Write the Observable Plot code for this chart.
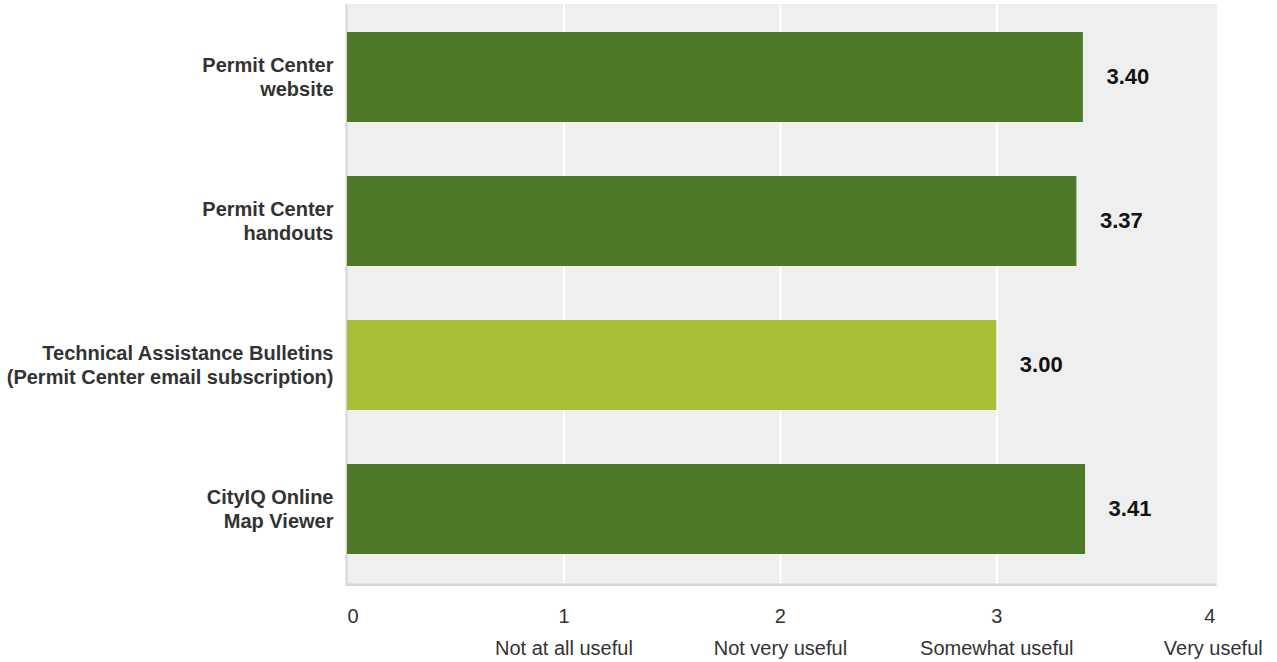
<!DOCTYPE html>
<html>
<head>
<meta charset="utf-8">
<script src="https://cdn.jsdelivr.net/npm/d3@7"></script>
<script src="https://cdn.jsdelivr.net/npm/@observablehq/plot@0.6"></script>
<style>
  html, body { margin: 0; padding: 0; background: #ffffff; }
  #chart svg { display: block; }
</style>
</head>
<body>
<div id="chart"></div>
<script>
// Average usefulness rating of each Permit Center resource (scale 0–4)
const resources = [
  "Permit Center\nwebsite",
  "Permit Center\nhandouts",
  "Technical Assistance Bulletins\n(Permit Center email subscription)",
  "CityIQ Online\nMap Viewer"
];
const ratings = [3.40, 3.37, 3.00, 3.41];
const groups = ["core", "core", "subscription", "core"];

// Rating scale ticks and their verbal anchors
const scaleTicks = [0, 1, 2, 3, 4];
const scaleLabels = ["", "Not at all useful", "Not very useful", "Somewhat useful", "Very useful"];

const rows = resources.map((resource, i) => ({resource, rating: ratings[i], group: groups[i]}));
const ticks = scaleTicks.map((value, i) => ({value, label: scaleLabels[i]}));
const firstTick = ticks.slice(0, 1);
const innerTicks = ticks.slice(1, -1);
const lastTick = ticks.slice(-1);

const font = "'Liberation Sans', Arial, Helvetica, sans-serif";
const tickStyle = {frameAnchor: "bottom", fontSize: 20, fill: "#333333"};

const chart = Plot.plot({
  width: 1277,
  height: 662,
  marginLeft: 347,
  marginRight: 61,
  marginTop: 4,
  marginBottom: 79,
  style: {fontFamily: font, background: "transparent", overflow: "visible"},
  x: {domain: [0, 4.015], axis: null},
  y: {domain: resources, axis: null, paddingInner: 0.372, paddingOuter: 0.186},
  color: {domain: ["core", "subscription"], range: ["#4e7a28", "#a8bd38"]},
  marks: [
    // panel border (left and bottom edges) and background
    Plot.frame({fill: "#d6d6d6", insetBottom: -2.5, insetLeft: -2}),
    Plot.frame({fill: "#efefef"}),
    Plot.gridX(scaleTicks.filter(t => t > 0 && t < 4), {stroke: "#ffffff", strokeOpacity: 1, strokeWidth: 2}),
    // bars
    Plot.barX(rows, {x: "rating", y: "resource", fill: "group"}),
    // value labels
    Plot.text(rows, {
      x: "rating", y: "resource", text: d => d.rating.toFixed(2),
      textAnchor: "start", dx: 23, dy: -1, fontSize: 22, fontWeight: "bold", fill: "#111111"
    }),
    // category labels
    Plot.text(rows, {
      y: "resource", text: "resource", frameAnchor: "left", textAnchor: "end",
      dx: -14, dy: -1.5, fontSize: 20, fontWeight: "bold", fill: "#333333", lineHeight: 1.2
    }),
    // numeric scale ticks
    Plot.text(firstTick, {x: "value", text: d => String(d.value), textAnchor: "start", dy: 39, ...tickStyle}),
    Plot.text(innerTicks, {x: "value", text: d => String(d.value), textAnchor: "middle", dy: 39, ...tickStyle}),
    Plot.text(lastTick, {x: "value", text: d => String(d.value), textAnchor: "end", dx: 2, dy: 39, ...tickStyle}),
    // verbal scale anchors
    Plot.text(ticks.filter(d => d.label), {x: "value", text: "label", textAnchor: "middle", dy: 71, ...tickStyle})
  ]
});

document.getElementById("chart").appendChild(chart);
</script>
</body>
</html>
